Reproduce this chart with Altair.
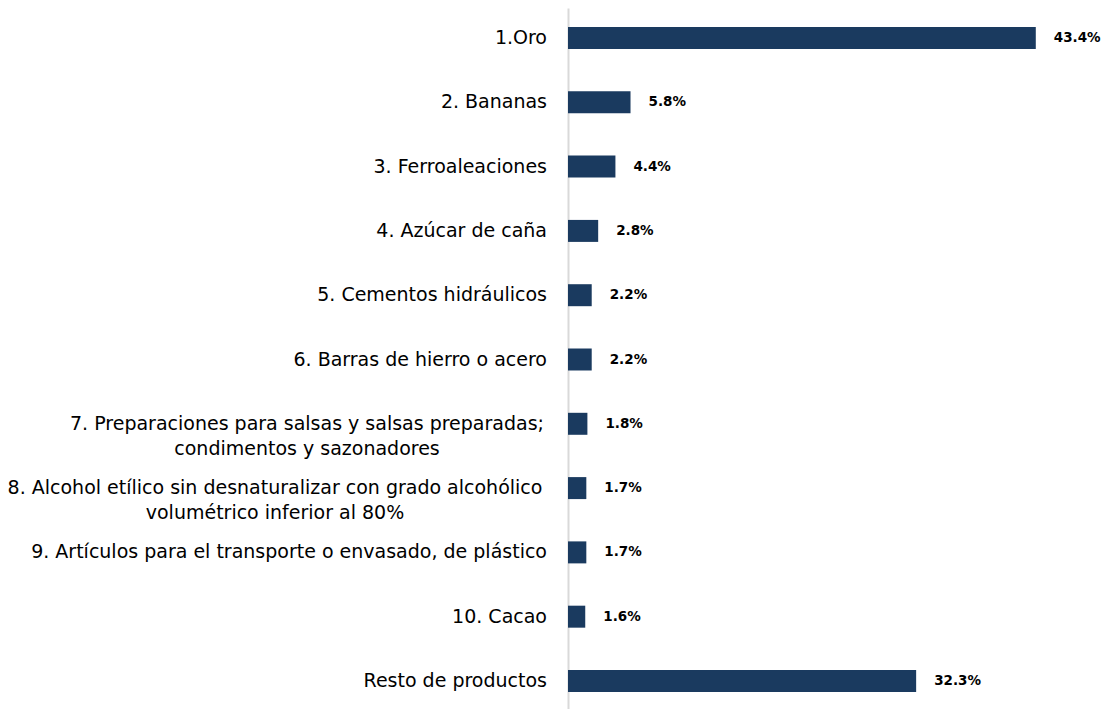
import altair as alt
import pandas as pd

products = [
    "1.Oro\u00a0",
    "2. Bananas\u00a0",
    "3. Ferroaleaciones",
    "4. Azúcar de caña\u00a0",
    "5. Cementos hidráulicos",
    "6. Barras de hierro o acero\u00a0",
    "7. Preparaciones para salsas y salsas preparadas;|condimentos y sazonadores",
    "8. Alcohol etílico sin desnaturalizar con grado alcohólico|volumétrico inferior al 80%",
    "9. Artículos para el transporte o envasado, de plástico",
    "10. Cacao\u00a0",
    "Resto de productos",
]
shares = [43.4, 5.8, 4.4, 2.8, 2.2, 2.2, 1.8, 1.7, 1.7, 1.6, 32.3]
labels = ["43.4%", "5.8%", "4.4%", "2.8%", "2.2%", "2.2%", "1.8%", "1.7%", "1.7%", "1.6%", "32.3%"]

df = pd.DataFrame({"producto": products, "valor": shares, "etiqueta": labels})

FONT = "DejaVu Sans"

y = alt.Y(
    "producto:N",
    sort=products,
    title=None,
    scale=alt.Scale(paddingInner=0.658, paddingOuter=0.296),
    axis=alt.Axis(
        labels=False,
        ticks=False,
        domain=True,
        domainColor="#d9d9d9",
        domainWidth=2,
    ),
)
x = alt.X("valor:Q", title=None, scale=alt.Scale(domain=[0, 49.45]), axis=None)

base = alt.Chart(df)

bars = base.mark_bar(color="#1a3a5f").encode(x=x, y=y)
values = base.mark_text(
    align="left", dx=18, font=FONT, fontWeight="bold", fontSize=13.5, color="#000000"
).encode(x=x, y=y, text="etiqueta:N")

single = base.transform_filter("indexof(datum.producto, '|') < 0").mark_text(
    align="right", baseline="middle", font=FONT, fontSize=19, color="#000000"
).encode(x=alt.value(-21), y=y, text="producto:N")

multi7 = base.transform_filter(alt.datum.producto == products[6]).mark_text(
    align="center", baseline="middle", font=FONT, fontSize=19, color="#000000",
    lineBreak="|", lineHeight=25,
).encode(x=alt.value(-261), y=y, text="producto:N")

multi8 = base.transform_filter(alt.datum.producto == products[7]).mark_text(
    align="center", baseline="middle", font=FONT, fontSize=19, color="#000000",
    lineBreak="|", lineHeight=25,
).encode(x=alt.value(-293), y=y, text="producto:N")

chart = (
    alt.layer(bars, values, single, multi7, multi8)
    .properties(
        width=533,
        height=703,
        autosize=alt.AutoSizeParams(type="none"),
        padding={"left": 560, "top": 0, "right": 0, "bottom": 0},
    )
    .configure_view(stroke=None)
)

chart.save("out.html", embed_options={"renderer": "svg", "actions": False})
